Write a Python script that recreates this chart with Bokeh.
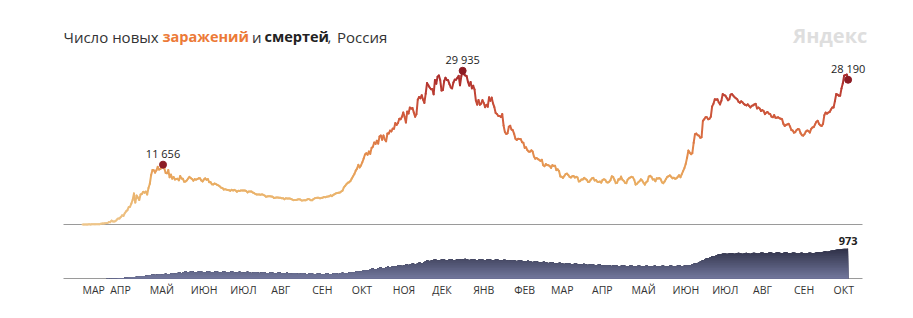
import numpy as np
from datetime import date
from bokeh.plotting import figure
from bokeh.models import Range1d, ColumnDataSource, LinearColorMapper
from bokeh.transform import transform
from bokeh.core.properties import value
from bokeh.embed import file_html
from bokeh.resources import INLINE

# ---------------- DATA (daily, Russia) ----------------
start_date = date(2020, 3, 11)
origin = date(2020, 3, 1)

cases_2020_03 = [8, 6, 17, 14, 4, 30, 21, 33, 52, 54, 53, 61, 71, 57, 163, 182, 196, 228, 270, 302, 500]
cases_2020_04 = [440, 771, 601, 582, 658, 954, 1154, 1175, 1459, 1786, 1667, 2186, 2558, 2774, 3388, 3448, 4070, 4785, 6060, 4268,
                 5642, 5236, 4774, 5849, 5966, 6361, 6198, 6411, 5841, 7099]
cases_2020_05 = [7933, 9623, 10633, 10581, 10102, 10559, 11231, 10699, 10817, 11012, 11656, 10899, 10028, 9974, 10598, 9200,
                 9709, 8926, 9263, 8764, 8849, 8894, 8599, 9434, 8946, 8915, 8338, 8371, 8572, 8952, 9268]
cases_2020_06 = [9035, 8863, 8536, 8831, 8726, 8855, 8984, 8985, 8595, 8404, 8779, 8987, 8706, 8835, 8246, 8248, 7843, 7790,
                 7972, 7889, 7728, 7600, 7425, 7176, 7113, 6800, 6852, 6791, 6719, 6693]
cases_2020_07 = [6556, 6760, 6632, 6736, 6611, 6368, 6562, 6509, 6635, 6635, 6611, 6615, 6537, 6248, 6422, 6428, 6406, 6234,
                 6109, 5940, 5842, 5862, 5848, 5811, 5871, 5765, 5635, 5395, 5475, 5509, 5482]
cases_2020_08 = [5462, 5427, 5159, 5204, 5267, 5241, 5212, 5189, 5118, 5102, 4945, 5102, 5057, 5065, 5061, 4969, 4839, 4748,
                 4790, 4767, 4870, 4921, 4852, 4676, 4696, 4744, 4711, 4829, 4980, 4897, 4729]
cases_2020_09 = [4729, 4952, 5110, 5185, 5205, 5195, 5099, 5185, 5218, 5363, 5310, 5406, 5449, 5509, 5670, 5529, 5762, 5905,
                 6065, 6148, 6196, 6215, 6431, 6595, 7212, 7523, 7867, 8135, 8232, 8481]
cases_2020_10 = [8945, 9412, 9859, 10499, 10888, 11615, 11115, 11493, 12126, 12846, 13634, 13868, 13592, 14231, 13754, 14922,
                 15150, 15982, 15700, 16319, 15753, 17115, 17340, 16521, 17347, 16550, 16202, 17717, 17717, 18283, 18140]
cases_2020_11 = [18665, 18648, 19768, 19404, 19768, 20582, 20498, 20977, 21798, 20977, 19851, 21983, 21608, 22778, 22572, 22702,
                 21798, 20977, 21500, 24318, 24822, 24581, 25173, 24326, 23675, 25487, 27543, 27100, 26683, 26338]
cases_2020_12 = [26402, 25345, 28145, 27403, 28782, 29039, 28137, 26097, 26190, 27927, 28585, 28137, 28080, 27328, 26689, 26509,
                 27656, 28214, 28209, 28552, 28948, 27120, 28921, 29935, 29258, 29018, 28940, 27787, 27039, 27747, 26513]
cases_2021_01 = [27029, 26301, 24150, 23351, 24246, 23309, 23541, 24217, 23652, 22851, 23315, 22934, 24763, 24092, 24715, 23586,
                 22857, 21734, 21513, 21152, 21127, 20921, 21513, 19290, 18000, 17648, 17741, 19032, 19238, 18500, 18359]
cases_2021_02 = [17648, 16714, 16474, 16688, 16643, 16627, 16048, 15916, 14928, 15038, 14494, 14207, 14185, 14445, 14207, 13233,
                 12828, 12953, 12742, 12604, 12370, 12604, 11534, 11359, 11749, 11571, 11534, 11359]
cases_2021_03 = [11024, 11571, 11385, 11449, 10595, 10753, 10407, 9364, 9299, 9079, 9437, 9801, 9908, 9632, 9270, 9149, 9393,
                 9445, 9150, 9284, 9167, 8369, 8457, 8769, 8763, 9073, 8885, 8700, 8277, 8325, 8711]
cases_2021_04 = [8996, 9074, 8582, 8646, 8328, 8294, 8365, 8156, 8679, 8806, 8702, 8262, 8173, 8328, 8632, 9384, 9259, 8711,
                 8053, 8117, 8807, 8780, 9321, 8731, 8534, 8114, 8053, 8731, 8996, 9152]
cases_2021_05 = [9270, 9180, 8697, 7770, 7920, 8217, 8419, 8804, 8554, 8145, 7768, 8217, 8419, 9330, 9462, 9288, 8780, 8790,
                 8419, 9000, 8941, 9066, 8810, 8217, 8060, 8380, 8855, 9270, 9400, 9560, 9288]
cases_2021_06 = [9000, 9100, 8900, 9000, 9300, 9600, 9200, 9800, 10400, 11000, 11800, 13000, 14400, 14000, 13700, 13900,
                 15900, 17600, 17700, 17400, 17300, 16900, 17000, 20200, 20500, 20900, 20900, 20500, 20600, 21000]
cases_2021_07 = [23000, 23500, 24400, 24300, 24400, 23800, 23400, 24100, 25400, 25200, 25100, 24700, 24200, 24400, 25300, 25400,
                 25100, 24800, 24600, 24400, 23900, 23700, 24000, 23800, 23500, 23300, 23200, 23400, 23100, 22800, 23100]
cases_2021_08 = [23200, 23400, 23500, 22600, 22800, 22600, 22100, 22300, 22100, 21500, 21800, 21900, 21600, 21500, 21000, 20900,
                 21300, 20800, 20800, 20900, 20700, 20600, 20500, 19600, 19200, 19400, 19500, 19600, 19100, 18400, 18300]
cases_2021_09 = [17900, 18000, 18400, 18600, 18500, 17800, 17400, 17300, 17600, 18100, 18300, 18200, 17900, 18600, 18900, 19000,
                 19500, 20000, 20200, 19600, 19300, 19200, 19600, 21300, 21800, 21600, 21800, 21900, 22400, 22800]
cases_2021_10 = [22800, 24000, 25400, 25300, 25100, 25100, 26500, 27500, 29000, 29100, 29200, 28190]

deaths_2020_03 = [0, 0, 0, 0, 0, 0, 0, 0, 1, 0, 0, 0, 0, 1, 2, 3, 1, 2, 4, 5, 7]
deaths_2020_04 = [2, 8, 8, 12, 10, 12, 14, 18, 16, 20, 16, 24, 22, 26, 30, 34, 40, 40, 44, 50, 56, 62, 66, 70, 72, 76, 80, 86, 92, 101]
deaths_2020_05 = [104, 116, 126, 120, 110, 118, 132, 140, 134, 124, 130, 144, 152, 146, 136, 142, 158, 168, 160, 150, 160, 178,
                  190, 182, 170, 184, 206, 222, 214, 200, 208]
deaths_2020_06 = [224, 230, 220, 204, 196, 206, 222, 232, 226, 210, 198, 204, 220, 230, 224, 208, 196, 202, 218, 228, 222, 206,
                  194, 200, 216, 226, 220, 204, 192, 198]
deaths_2020_07 = [214, 222, 214, 198, 188, 196, 212, 218, 210, 194, 184, 190, 206, 214, 206, 190, 180, 186, 202, 208, 200, 186,
                  176, 182, 196, 202, 194, 180, 170, 176, 190]
deaths_2020_08 = [196, 188, 174, 164, 170, 184, 190, 182, 168, 158, 164, 178, 184, 176, 162, 152, 158, 172, 178, 170, 156, 146,
                  152, 166, 172, 164, 150, 140, 146, 160, 166]
deaths_2020_09 = [158, 144, 136, 142, 156, 162, 154, 140, 132, 140, 154, 162, 156, 142, 136, 146, 162, 170, 164, 150, 146, 158,
                  176, 186, 180, 166, 164, 178, 196, 204]
deaths_2020_10 = [196, 190, 204, 226, 236, 230, 218, 220, 242, 264, 274, 266, 256, 262, 288, 310, 318, 308, 296, 304, 328, 346,
                  350, 338, 328, 340, 364, 380, 374, 360, 372]
deaths_2020_11 = [398, 392, 384, 396, 420, 430, 418, 404, 410, 436, 452, 446, 432, 440, 466, 480, 470, 456, 464, 492, 512, 504,
                  490, 500, 530, 560, 582, 574, 560, 568]
deaths_2020_12 = [588, 602, 614, 606, 588, 580, 594, 612, 622, 612, 594, 586, 598, 616, 626, 614, 596, 588, 602, 620, 630, 618,
                  600, 610, 628, 636, 622, 602, 594, 606, 620]
deaths_2021_01 = [626, 616, 598, 590, 604, 620, 628, 616, 598, 588, 600, 616, 622, 610, 592, 584, 596, 610, 616, 604, 586, 578,
                  588, 602, 606, 594, 576, 568, 578, 592, 596]
deaths_2021_02 = [584, 566, 558, 566, 580, 584, 572, 554, 546, 554, 566, 570, 556, 538, 530, 538, 550, 554, 540, 522, 514, 522,
                  534, 536, 522, 504, 498, 506]
deaths_2021_03 = [518, 520, 506, 488, 482, 490, 504, 506, 492, 474, 468, 478, 490, 492, 478, 462, 456, 466, 478, 480, 466, 450,
                  446, 456, 468, 470, 456, 440, 436, 446, 458]
deaths_2021_04 = [460, 446, 430, 426, 436, 448, 448, 434, 418, 414, 424, 436, 436, 422, 408, 404, 414, 426, 426, 412, 398, 396,
                  406, 418, 420, 406, 394, 392, 402, 414]
deaths_2021_05 = [414, 402, 388, 388, 400, 412, 412, 398, 386, 386, 398, 410, 410, 396, 384, 384, 396, 408, 410, 396, 384, 384,
                  396, 410, 412, 398, 386, 386, 398, 412, 414]
deaths_2021_06 = [402, 392, 392, 404, 418, 420, 408, 396, 398, 412, 428, 434, 426, 420, 430, 452, 472, 480, 480, 496, 524, 548,
                  566, 580, 602, 632, 650, 654, 666, 690]
deaths_2021_07 = [712, 718, 722, 740, 760, 778, 784, 790, 800, 806, 802, 794, 798, 812, 822, 818, 804, 796, 806, 820, 826, 818,
                  802, 796, 806, 820, 824, 814, 800, 796, 808]
deaths_2021_08 = [824, 830, 820, 806, 804, 816, 832, 838, 828, 812, 808, 820, 836, 842, 832, 816, 812, 826, 842, 846, 834, 818,
                  812, 824, 840, 844, 832, 814, 808, 818, 832]
deaths_2021_09 = [836, 826, 810, 804, 814, 830, 834, 822, 806, 802, 814, 830, 836, 826, 812, 812, 828, 846, 854, 848, 838, 844,
                  862, 876, 878, 870, 868, 884, 902, 908]
deaths_2021_10 = [904, 912, 928, 940, 942, 938, 944, 956, 964, 962, 966, 973]

month_labels = ["МАР", "АПР", "МАЙ", "ИЮН", "ИЮЛ", "АВГ", "СЕН", "ОКТ", "НОЯ", "ДЕК",
                "ЯНВ", "ФЕВ", "МАР", "АПР", "МАЙ", "ИЮН", "ИЮЛ", "АВГ", "СЕН", "ОКТ"]

# ---------------- assemble ----------------
cases = np.array(cases_2020_03 + cases_2020_04 + cases_2020_05 + cases_2020_06 + cases_2020_07 + cases_2020_08 +
                 cases_2020_09 + cases_2020_10 + cases_2020_11 + cases_2020_12 + cases_2021_01 + cases_2021_02 +
                 cases_2021_03 + cases_2021_04 + cases_2021_05 + cases_2021_06 + cases_2021_07 + cases_2021_08 +
                 cases_2021_09 + cases_2021_10, dtype=float)
deaths = np.array(deaths_2020_03 + deaths_2020_04 + deaths_2020_05 + deaths_2020_06 + deaths_2020_07 + deaths_2020_08 +
                  deaths_2020_09 + deaths_2020_10 + deaths_2020_11 + deaths_2020_12 + deaths_2021_01 + deaths_2021_02 +
                  deaths_2021_03 + deaths_2021_04 + deaths_2021_05 + deaths_2021_06 + deaths_2021_07 + deaths_2021_08 +
                  deaths_2021_09 + deaths_2021_10, dtype=float)
n = min(len(cases), len(deaths))
cases, deaths = cases[:n], deaths[:n]
days = np.arange(n) + (start_date - origin).days

# ---------------- layout constants (pixels) ----------------
W, H = 913, 318
X0_PX, PX_PER_DAY = 68.8, 1.32
C_BASE, C_TOP = 224.0, 70.3
D_BASE, D_TOP = 278.0, 247.7
AX_L, AX_R = 63, 862

cpp = cases.max() / (C_BASE - C_TOP)
dpp = deaths[-1] / (D_BASE - D_TOP)

def sx(px):
    return (px - X0_PX) / PX_PER_DAY

def sy(py):
    return (C_BASE - py) * cpp

def sy_d(py):
    return (D_BASE - py) * dpp

p = figure(width=W, height=H, output_backend="svg", toolbar_location=None,
           x_range=Range1d(sx(0), sx(W)), y_range=Range1d(sy(H), sy(0)),
           x_axis_type=None, y_axis_type=None, min_border=0,
           outline_line_color=None, background_fill_color="white", border_fill_color="white")
p.extra_y_ranges = {"d": Range1d(sy_d(H), sy_d(0))}
p.xgrid.visible = False
p.ygrid.visible = False

# colour ramp for the cases line
anchors = [(0, "#eec58a"), (8000, "#e9ad62"), (14000, "#e38a4b"), (20000, "#d4603e"),
           (26000, "#bd3f33"), (30000, "#a4262a")]
def hex2rgb(h):
    return np.array([int(h[i:i + 2], 16) for i in (1, 3, 5)], dtype=float)
pal = []
for v in np.linspace(0, 30000, 256):
    for (v0, c0), (v1, c1) in zip(anchors[:-1], anchors[1:]):
        if v0 <= v <= v1:
            t = (v - v0) / (v1 - v0)
            rgb = hex2rgb(c0) * (1 - t) + hex2rgb(c1) * t
            pal.append("#%02x%02x%02x" % tuple(int(round(c)) for c in rgb))
            break
mapper = LinearColorMapper(palette=pal, low=0, high=30000)

# baselines
p.segment(x0=[sx(AX_L)], y0=[0], x1=[sx(AX_R)], y1=[0], line_color="#9a9a9a", line_width=1)
p.segment(x0=[sx(AX_L)], y0=[0], x1=[sx(AX_R)], y1=[0], line_color="#9a9a9a", line_width=1, y_range_name="d")

# deaths area with vertical gradient (stacked overlays)
top_col, bot_col = hex2rgb("#2b2d43"), hex2rgb("#72779c")
N = 18
lv = np.linspace(0, 1000, N + 1)
for k in range(N, 0, -1):
    t = (lv[k] - lv[1] / 2) / 1000.0
    rgb = bot_col * (1 - t) + top_col * t
    col = "#%02x%02x%02x" % tuple(int(round(c)) for c in rgb)
    p.varea(x=days, y1=np.zeros(n), y2=np.minimum(deaths, lv[k]), fill_color=col, y_range_name="d")

# cases line coloured by value
seg = ColumnDataSource(dict(x0=days[:-1], y0=cases[:-1], x1=days[1:], y1=cases[1:],
                            v=(cases[:-1] + cases[1:]) / 2))
p.segment("x0", "y0", "x1", "y1", source=seg, line_color=transform("v", mapper),
          line_width=2, line_cap="round", line_join="round")

# highlighted points
i1 = int(np.argmax(cases[:120]))
i2 = int(np.argmax(cases))
i3 = n - 1
pk = [i1, i2, i3]
fmt = lambda v: f"{int(v):,}".replace(",", " ")
p.scatter(days[pk], cases[pk], size=7, color="#8c1c24")
p.text(days[pk], cases[pk], text=[fmt(cases[i]) for i in pk], text_align="center", text_baseline="middle",
       y_offset=-11, text_font=value("Open Sans"), text_font_size="11px", text_color="#222222")
p.text([days[-1]], [deaths[-1]], text=[fmt(deaths[-1])], text_align="center", text_baseline="middle",
       y_offset=-7, text_font=value("Open Sans"), text_font_size="11px", text_color="#222222",
       text_font_style="bold", y_range_name="d")

# month labels (left aligned at the first day of each month)
mx = []
y, m = 2020, 3
for _ in month_labels:
    mx.append(max((date(y, m, 1) - origin).days, days[0]))
    m += 1
    if m > 12:
        y, m = y + 1, 1
p.text(mx, [sy_d(289)] * len(mx), text=month_labels, text_align="left", text_baseline="middle",
       text_font=value("Open Sans"), text_font_size="10.5px", text_color="#333333", y_range_name="d")

# title pieces
title_parts = [("Число новых", 63, "normal", "15px", "#333333"), ("заражений", 162, "bold", "14.5px", "#ec7a37"),
               ("и", 251.5, "normal", "15px", "#333333"), ("смертей", 264, "bold", "14.5px", "#222222"),
               (",", 327, "normal", "15px", "#333333"), ("Россия", 336.5, "normal", "15px", "#333333")]
for txt, px, style, size, col in title_parts:
    p.text([sx(px)], [sy(36)], text=[txt], text_align="left", text_baseline="alphabetic",
           text_font=value("Open Sans"), text_font_size=size, text_font_style=style, text_color=col)

p.text([sx(792.5)], [sy(35)], text=["Яндекс"], text_align="left", text_baseline="alphabetic",
       text_font=value("Open Sans"), text_font_size="20px", text_font_style="bold", text_color="#dedede")

open("out.html", "w").write(file_html(p, INLINE))
